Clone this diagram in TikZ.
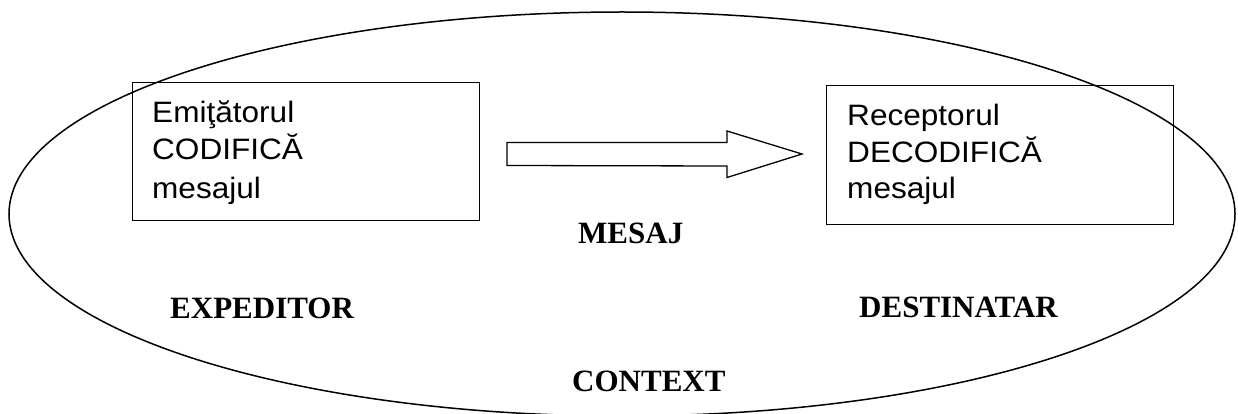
\documentclass[tikz,border=0pt]{standalone}
\usepackage{fontspec}
\setmainfont{Liberation Serif}
\newfontfamily\arialf[FakeStretch=1.07]{Liberation Sans}
\begin{document}
\begin{tikzpicture}[x=1pt,y=-1pt,
  boxtext/.style={anchor=base west,inner sep=0pt,font=\arialf\fontsize{29.5}{37}\selectfont},
  lbl/.style={anchor=base west,inner sep=0pt,font=\bfseries\fontsize{31}{31}\selectfont},
  frame/.style={draw,line width=1.4pt,inner sep=0pt,anchor=north west}]
\useasboundingbox (0,0) rectangle (1238,414);
\draw[line width=1.5pt] (622,214) ellipse [x radius=613, y radius=202];
\node[frame,minimum width=347pt,minimum height=138pt] (lbox) at (132,82) {};
\node[frame,minimum width=347pt,minimum height=139pt] (rbox) at (826,85) {};
\node[boxtext] (l1) at (152,123) {Emiţătorul};
\node[boxtext] (l2) at (152,160) {CODIFICĂ};
\node[boxtext] (l3) at (152,198) {mesajul};
\node[boxtext] (r1) at (847,126) {Receptorul};
\node[boxtext] (r2) at (847,163) {DECODIFICĂ};
\node[boxtext] (r3) at (847,198) {mesajul};
\coordinate (as) at (507,154);
\coordinate (at) at (802,154);
\draw[line width=1.3pt,line join=miter] ([shift={(0,-11.5)}]as) -- ++(220,0) -- ++(0,-11.5) -- (at) -- ++(-75,23.5) -- ++(0,-11.5) -- ([shift={(0,11.5)}]as) -- cycle;
\node[lbl] (mesaj) at (578,243) {MESAJ};
\node[lbl] (exp) at (170,318) {EXPEDITOR};
\node[lbl] (dest) at (859,317) {DESTINATAR};
\node[lbl] (ctx) at (572,391) {CONTEXT};
\end{tikzpicture}
\end{document}
